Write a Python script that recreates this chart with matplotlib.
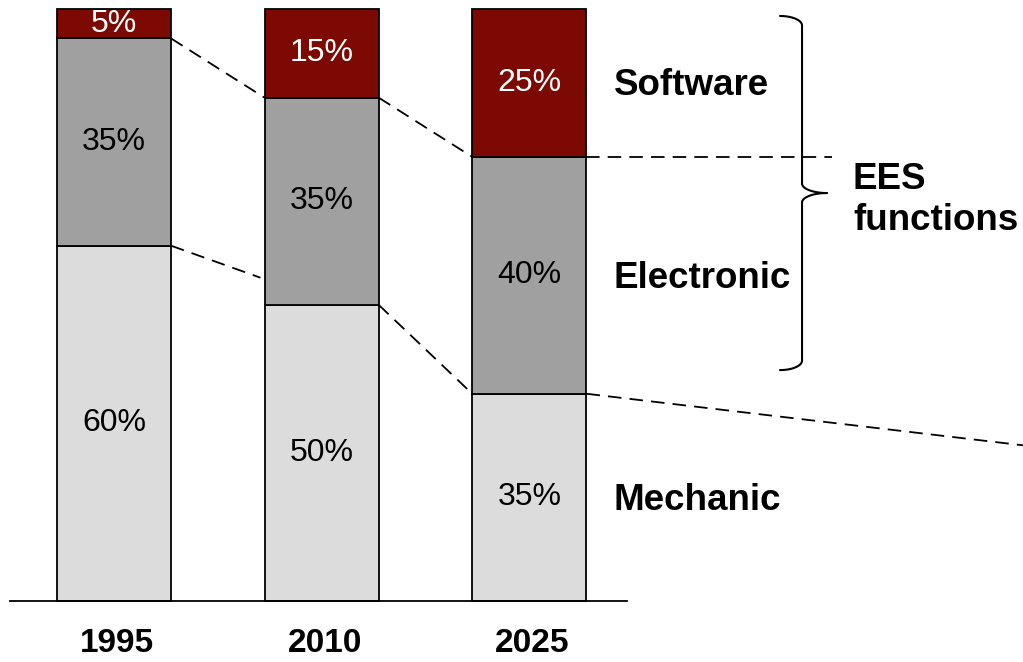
import numpy as np
import matplotlib.pyplot as plt

plt.rcParams['font.family'] = ['Liberation Sans', 'DejaVu Sans']

# Datos
years = ['1995', '2010', '2025']
mechanic = [60, 50, 35]
electronic = [35, 35, 40]
software = [5, 15, 25]
layers = ['Mechanic', 'Electronic', 'Software']
colors = ['#dcdcdc', '#a0a0a0', '#7c0a02']
text_colors = ['black', 'black', 'white']

fig = plt.figure(figsize=(10.23, 6.62), dpi=100)
ax = fig.add_axes([0, 0, 1, 1])
ax.set_xlim(-0.549, 4.377)
ax.set_ylim(-10.3, 101.5)
ax.axis('off')

x = np.arange(len(years))
w = 0.55
bottom = np.zeros(len(years))
stacks = [mechanic, electronic, software]
for vals, col, tcol in zip(stacks, colors, text_colors):
    vals = np.array(vals, dtype=float)
    ax.bar(x, vals, w, bottom=bottom, color=col, edgecolor='black', linewidth=1.3, zorder=2)
    for xi, b, v in zip(x, bottom, vals):
        ax.text(xi, b + v / 2, f'{int(v)}%', ha='center', va='center',
                fontsize=23, color=tcol, zorder=3)
    bottom += vals

# eje base
ax.plot([-0.5, 2.47], [0, 0], color='black', lw=1.3, zorder=3)

# etiquetas de los años
for xi, yr in zip(x, years):
    ax.text(xi + 0.015, -7.2, yr, ha='center', va='center', fontsize=24, fontweight='bold')

# lineas discontinuas entre barras
top_el = np.array(mechanic) + np.array(electronic)
dash = dict(color='black', lw=1.3, dashes=(7.5, 4.5), zorder=1)
ax.plot([0 + w / 2, 1 - w / 2 - 0.02], [mechanic[0], 54.6], **dash)
ax.plot([0 + w / 2, 1 - w / 2], [top_el[0], top_el[1]], **dash)
ax.plot([1 + w / 2, 2 - w / 2], [top_el[1], top_el[2]], **dash)
ax.plot([1 + w / 2, 2 - w / 2], [mechanic[1], mechanic[2]], **dash)
ax.plot([2 + w / 2, 3.457], [top_el[2], top_el[2]], **dash)
ax.plot([2 + w / 2, 4.40], [mechanic[2], 26.2], **dash)

# nombres de las capas
for name, yc in zip(layers, [mechanic[2] / 2, mechanic[2] + electronic[2] / 2,
                             top_el[2] + software[2] / 2]):
    ax.text(2.407, yc - 0.5, name, ha='left', va='center', fontsize=26.5, fontweight='bold')

ax.text(3.558, 67.8, 'EES\nfunctions', ha='left', va='center', fontsize=26.5,
        fontweight='bold', linespacing=1.22)

# llave
x0, x1, xt = 3.207, 3.313, 3.433
yt, ym, yb = 98.8, 68.9, 39.0
r = 1.6
t = np.linspace(0, np.pi / 2, 20)
xs, ys = [], []
xs += list(x0 + (x1 - x0) * np.sin(t)); ys += list(yt - r * (1 - np.cos(t)))
xs += [x1, x1]; ys += [yt - r, ym + r]
xs += list(x1 + (xt - x1) * (1 - np.cos(t))); ys += list(ym + r * (1 - np.sin(t)))
ax.plot(xs, ys, color='black', lw=1.5, solid_capstyle='round')
xs, ys = [], []
xs += list(x0 + (x1 - x0) * np.sin(t)); ys += list(yb + r * (1 - np.cos(t)))
xs += [x1, x1]; ys += [yb + r, ym - r]
xs += list(x1 + (xt - x1) * (1 - np.cos(t))); ys += list(ym - r * (1 - np.sin(t)))
ax.plot(xs, ys, color='black', lw=1.5, solid_capstyle='round')

fig.savefig('out.png', dpi=100)
